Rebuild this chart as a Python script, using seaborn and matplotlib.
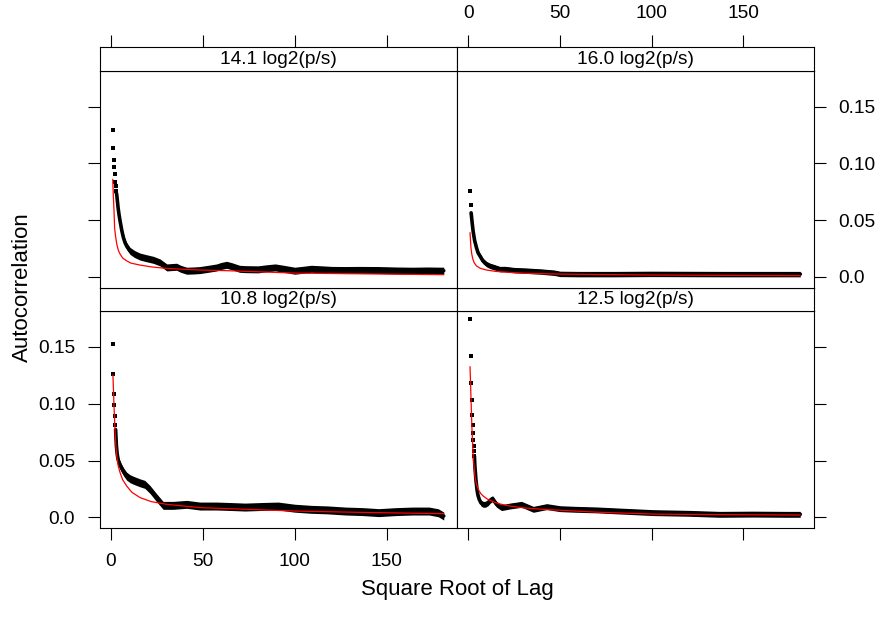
import numpy as np
import pandas as pd
import matplotlib
matplotlib.use("Agg")
import matplotlib.pyplot as plt
import seaborn as sns

sns.set_style("white")
plt.rcParams['font.family'] = ['Liberation Sans', 'DejaVu Sans']
plt.rcParams['text.color'] = 'black'
plt.rcParams['axes.labelcolor'] = 'black'
plt.rcParams['xtick.color'] = 'black'
plt.rcParams['ytick.color'] = 'black'

# ---------------- data ----------------
panel_titles = ["10.8 log2(p/s)", "12.5 log2(p/s)", "14.1 log2(p/s)", "16.0 log2(p/s)"]

# first individual lags (drawn as separate points)
head_lag_108 = [1, 2, 3, 4, 5, 6]
head_acf_108 = [0.1526, 0.1263, 0.1088, 0.0991, 0.0889, 0.0816]
head_lag_125 = [1, 2, 3, 4, 5, 6, 7, 8, 9, 10, 11]
head_acf_125 = [0.1746, 0.1421, 0.1187, 0.1035, 0.0904, 0.0816, 0.0743, 0.0684, 0.0632, 0.0582, 0.0538]
head_lag_141 = [1, 2, 3, 4, 5, 6, 7, 8]
head_acf_141 = [0.130, 0.114, 0.1035, 0.0968, 0.0906, 0.084, 0.080, 0.076]
head_lag_160 = [1, 2]
head_acf_160 = [0.0754, 0.0632]

# dense remainder of the autocorrelation (square root of lag, value)
band_x_108 = [2.65, 3.1, 3.5, 4.0, 4.8, 5.8, 7.0, 8.6, 10.5, 12.2, 15.8, 18.5, 21.3, 24.9, 28.5, 34,
              41.3, 48.5, 57.6, 65, 73, 82, 91, 100, 109, 118, 127.6, 137, 145.7, 155, 164, 173,
              178, 181]
band_y_108 = [0.0772, 0.0626, 0.056, 0.0509, 0.047, 0.0436, 0.040, 0.0363, 0.034, 0.0327, 0.0304,
              0.029, 0.0246, 0.0173, 0.0105, 0.0105, 0.0114, 0.0099, 0.0099, 0.0095, 0.009, 0.0095,
              0.0099, 0.008, 0.007, 0.0065, 0.0055, 0.005, 0.0041, 0.005, 0.0055, 0.0055, 0.004,
              0.0011]
band_x_125 = [3.4, 3.65, 4.2, 4.9, 5.4, 6.0, 7.0, 8.2, 9.5, 10.9, 12.0, 13.3, 14.5, 15.5, 18.2, 22.7,
              29.1, 35.5, 42.8, 50, 59, 70, 82.7, 101, 120, 137, 155, 173.6, 181]
band_y_125 = [0.0538, 0.045, 0.0333, 0.0231, 0.019, 0.0158, 0.0125, 0.0114, 0.0115, 0.0129, 0.015,
              0.0164, 0.0135, 0.0114, 0.0085, 0.0099, 0.0114, 0.007, 0.0094, 0.0076, 0.007, 0.0065,
              0.0055, 0.0041, 0.0035, 0.0026, 0.0028, 0.0026, 0.0026]
band_x_141 = [2.85, 3.3, 4.0, 4.5, 5.1, 6.0, 6.9, 7.8, 8.7, 10.5, 13, 15.9, 19, 23.2, 26.8, 30.5, 33,
              35.8, 38, 41.3, 45, 48.6, 53, 57.6, 60, 63, 66, 70, 73, 80, 85, 89.4, 94, 100, 105,
              109, 115, 120, 127.6, 135, 145.6, 155, 164, 172, 181]
band_y_141 = [0.076, 0.072, 0.061, 0.055, 0.049, 0.041, 0.0345, 0.030, 0.027, 0.0228, 0.020, 0.0178,
              0.0165, 0.0149, 0.0126, 0.0082, 0.0085, 0.0088, 0.007, 0.0053, 0.0055, 0.0059, 0.007,
              0.0082, 0.0095, 0.0105, 0.0092, 0.007, 0.0067, 0.0065, 0.0075, 0.0082, 0.007, 0.0053,
              0.0062, 0.007, 0.0065, 0.006, 0.0059, 0.006, 0.0059, 0.0055, 0.0053, 0.0055, 0.0053]
band_x_160 = [1.6, 2.2, 2.7, 3.5, 4.5, 5.4, 6.4, 8.0, 10, 12, 14, 17.3, 20, 25, 32, 40, 47, 50, 60,
              80, 100, 120, 140, 160, 181]
band_y_160 = [0.0564, 0.047, 0.040, 0.032, 0.0257, 0.021, 0.0184, 0.014, 0.0111, 0.0095, 0.0085,
              0.0067, 0.0068, 0.0058, 0.0053, 0.0045, 0.0035, 0.0025, 0.0023, 0.0023, 0.0025,
              0.0024, 0.0023, 0.0023, 0.0023]

# fitted curves (red)
fit_x_108 = [1.2, 1.8, 2.3, 2.8, 3.3, 4.1, 5.1, 6.5, 8.7, 11.5, 16, 22, 30.5, 48.6, 100, 140, 181]
fit_y_108 = [0.1254, 0.0976, 0.0772, 0.063, 0.0538, 0.045, 0.0392, 0.033, 0.0275, 0.022, 0.0173,
             0.0138, 0.0114, 0.0085, 0.0055, 0.0042, 0.0032]
fit_x_125 = [1.0, 1.5, 2.0, 2.7, 3.65, 4.5, 5.5, 6.8, 8.2, 10.5, 13.6, 17, 22.7, 30, 40.9, 70, 101,
             140, 181]
fit_y_125 = [0.1327, 0.1064, 0.0801, 0.0538, 0.0363, 0.029, 0.0246, 0.021, 0.0187, 0.016, 0.0137,
             0.0118, 0.0099, 0.0083, 0.007, 0.0045, 0.0028, 0.0023, 0.002]
fit_x_141 = [1.1, 1.4, 1.8, 2.1, 2.6, 3.3, 4.2, 5.1, 6.5, 8.7, 11, 15.9, 22, 30.5, 48.6, 64, 100,
             140, 181]
fit_y_141 = [0.086, 0.072, 0.058, 0.0433, 0.036, 0.0287, 0.023, 0.020, 0.0165, 0.014, 0.012, 0.0103,
             0.0087, 0.0073, 0.0059, 0.0053, 0.0032, 0.0025, 0.0018]
fit_x_160 = [1.0, 1.5, 1.9, 2.4, 3.2, 4.5, 6.5, 10, 15, 23, 32, 50, 100, 181]
fit_y_160 = [0.0389, 0.0257, 0.0205, 0.0164, 0.0125, 0.0096, 0.0075, 0.0059, 0.0047, 0.0038, 0.003,
             0.0023, 0.0015, 0.0009]

x_ticks = [0, 50, 100, 150]
y_ticks = [0.0, 0.05, 0.10, 0.15]
y_tick_labels = ["0.0", "0.05", "0.10", "0.15"]

panels = [
    (panel_titles[0], head_lag_108, head_acf_108, band_x_108, band_y_108, fit_x_108, fit_y_108),
    (panel_titles[1], head_lag_125, head_acf_125, band_x_125, band_y_125, fit_x_125, fit_y_125),
    (panel_titles[2], head_lag_141, head_acf_141, band_x_141, band_y_141, fit_x_141, fit_y_141),
    (panel_titles[3], head_lag_160, head_acf_160, band_x_160, band_y_160, fit_x_160, fit_y_160),
]

# ---------------- layout ----------------
W, H = 881, 624
fig = plt.figure(figsize=(W / 100, H / 100), dpi=100)

XL = (-6.1, 188.2)
YL = (-0.0097, 0.1817)
FS = 13.8
LW = 0.8

col_x = [(99.5, 457.0), (457.0, 813.5)]
row_y = {"top": (46.7, 71.0, 287.7), "bottom": (287.7, 311.0, 528.3)}
# vertical half-thickness of the dense point cloud (data units), a style choice
band_half = {0: 0.0035, 1: 0.0026, 2: 0.0031, 3: 0.0024}


def add_ax(x0, x1, y0, y1):
    return fig.add_axes([x0 / W, 1 - y1 / H, (x1 - x0) / W, (y1 - y0) / H])


layout = [(0, "bottom"), (1, "bottom"), (0, "top"), (1, "top")]

for i, (title, hl, ha, bx, by, fx, fy) in enumerate(panels):
    c, r = layout[i]
    x0, x1 = col_x[c]
    s0, s1, p1 = row_y[r]
    ax = add_ax(x0, x1, s1, p1)
    sax = add_ax(x0, x1, s0, s1)

    df_band = pd.DataFrame({"x": bx, "y": by})
    df_head = pd.DataFrame({"x": np.sqrt(hl), "y": ha})
    df_fit = pd.DataFrame({"x": fx, "y": fy})

    hb = band_half[i]
    ax.fill_between(df_band["x"], df_band["y"] - hb, df_band["y"] + hb,
                    color="black", linewidth=0)
    sns.lineplot(data=df_band, x="x", y="y", ax=ax, color="black", lw=2.6,
                 estimator=None, sort=False, solid_capstyle="round",
                 solid_joinstyle="round")
    sns.scatterplot(data=df_head, x="x", y="y", ax=ax, color="black", marker="s", s=6,
                    linewidth=0)
    sns.lineplot(data=df_fit, x="x", y="y", ax=ax, color="red", lw=0.9,
                 estimator=None, sort=False)

    ax.set_xlim(*XL)
    ax.set_ylim(*YL)
    ax.set_xlabel("")
    ax.set_ylabel("")
    ax.set_xticks(x_ticks)
    ax.set_yticks(y_ticks)
    ax.set_yticklabels(y_tick_labels)
    for sp in ax.spines.values():
        sp.set_color("black")
        sp.set_linewidth(LW)
        sp.set_visible(True)

    ax.tick_params(direction="out", length=8.6, width=LW, color="black",
                   labelsize=FS, pad=9, labelcolor="black")
    is_left = c == 0
    is_bottom = r == "bottom"
    ax.tick_params(axis="x", bottom=is_bottom, top=False,
                   labelbottom=(is_bottom and is_left), labeltop=False)
    ax.tick_params(axis="y", left=is_left, right=not is_left,
                   labelleft=(is_left and is_bottom),
                   labelright=((not is_left) and (not is_bottom)))

    # strip
    sax.set_xlim(*XL)
    sax.set_ylim(0, 1)
    sax.set_yticks([])
    sax.set_facecolor("white")
    for sp in sax.spines.values():
        sp.set_color("black")
        sp.set_linewidth(LW)
        sp.set_visible(True)
    sax.text(0.5, 0.48, title, transform=sax.transAxes, ha="center", va="center",
             fontsize=FS, color="black")
    if r == "top":
        sax.set_xticks(x_ticks)
        sax.tick_params(axis="x", direction="out", length=8.6, width=LW, color="black",
                        labelsize=FS, pad=9, top=True, bottom=False,
                        labeltop=not is_left, labelbottom=False, labelcolor="black")
    else:
        sax.set_xticks([])

fig.text(457 / W, 1 - 590 / H, "Square Root of Lag", ha="center", va="center",
         fontsize=16, color="black")
fig.text(22 / W, 1 - 287 / H, "Autocorrelation", ha="center", va="center",
         rotation=90, fontsize=16, color="black")

fig.savefig("out.png", dpi=100, facecolor="white")
